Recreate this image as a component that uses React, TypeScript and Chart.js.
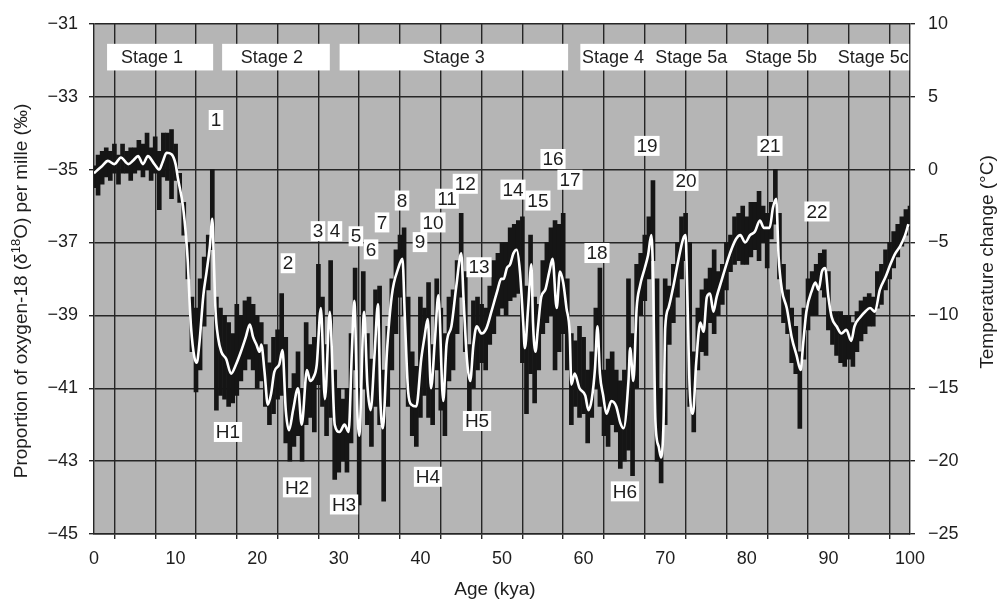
import { useEffect, useRef } from 'react';
import { Chart, registerables } from 'chart.js';

Chart.register(...registerables);

// ---- Data ----
// Raw δ18O record: min/max of the black trace in 0.5 kya bins
const rawAges = [
  0, 0.5, 1, 1.5, 2, 2.5, 3, 3.5, 4, 4.5, 5, 5.5, 6, 6.5, 7, 7.5, 8, 8.5, 9, 9.5,
  10, 10.5, 11, 11.5, 12, 12.5, 13, 13.5, 14, 14.5, 15, 15.5, 16, 16.5, 17, 17.5, 18, 18.5, 19, 19.5,
  20, 20.5, 21, 21.5, 22, 22.5, 23, 23.5, 24, 24.5, 25, 25.5, 26, 26.5, 27, 27.5, 28, 28.5, 29, 29.5,
  30, 30.5, 31, 31.5, 32, 32.5, 33, 33.5, 34, 34.5, 35, 35.5, 36, 36.5, 37, 37.5, 38, 38.5, 39, 39.5,
  40, 40.5, 41, 41.5, 42, 42.5, 43, 43.5, 44, 44.5, 45, 45.5, 46, 46.5, 47, 47.5, 48, 48.5, 49, 49.5,
  50, 50.5, 51, 51.5, 52, 52.5, 53, 53.5, 54, 54.5, 55, 55.5, 56, 56.5, 57, 57.5, 58, 58.5, 59, 59.5,
  60, 60.5, 61, 61.5, 62, 62.5, 63, 63.5, 64, 64.5, 65, 65.5, 66, 66.5, 67, 67.5, 68, 68.5, 69, 69.5,
  70, 70.5, 71, 71.5, 72, 72.5, 73, 73.5, 74, 74.5, 75, 75.5, 76, 76.5, 77, 77.5, 78, 78.5, 79, 79.5,
  80, 80.5, 81, 81.5, 82, 82.5, 83, 83.5, 84, 84.5, 85, 85.5, 86, 86.5, 87, 87.5, 88, 88.5, 89, 89.5,
  90, 90.5, 91, 91.5, 92, 92.5, 93, 93.5, 94, 94.5, 95, 95.5, 96, 96.5, 97, 97.5, 98, 98.5, 99, 99.5,
  100,
];
const rawLow = [
  -35.5, -35.7, -35.4, -35.2, -35.3, -35.1, -35.4, -35.1, -35.1, -35.3, -35.1, -35.0, -35.2, -35.0, -35.3, -35.1, -36.1, -35.2, -35.3, -35.8,
  -35.3, -35.9, -36.8, -38.0, -40.0, -41.1, -40.5, -39.3, -38.3, -37.2, -41.6, -41.2, -41.3, -41.5, -41.4, -41.2, -40.8, -40.5, -40.2, -40.5,
  -41.0, -40.8, -41.5, -42.0, -41.7, -41.3, -41.2, -42.5, -43.0, -42.6, -42.3, -43.0, -42.0, -41.8, -42.2, -40.9, -41.5, -42.3, -41.8, -43.5,
  -43.3, -43.0, -43.3, -42.5, -40.5, -44.2, -41.0, -42.0, -42.6, -41.5, -42.0, -44.1, -41.5, -40.5, -39.5, -38.5, -39.0, -41.5, -42.3, -42.6,
  -41.8, -41.2, -41.8, -42.0, -40.5, -41.6, -42.3, -40.8, -40.5, -39.5, -38.5, -40.0, -41.8, -41.0, -40.5, -40.3, -40.5, -39.8, -39.5, -39.0,
  -38.8, -39.0, -38.6, -38.5, -38.4, -40.3, -41.7, -40.6, -41.4, -40.5, -39.5, -39.2, -39.0, -40.5, -40.0, -39.5, -40.5, -42.0, -41.5, -41.8,
  -41.7, -42.5, -41.8, -41.0, -41.5, -42.3, -42.6, -42.0, -42.2, -43.2, -43.0, -42.7, -43.4, -41.0, -39.0, -38.6, -38.0, -37.5, -43.0, -43.6,
  -42.0, -39.8, -39.2, -38.5, -38.0, -37.5, -41.5, -42.2, -40.5, -40.0, -40.1, -39.2, -39.5, -39.0, -38.7, -38.3, -37.8, -37.6, -37.5, -37.6,
  -37.6, -37.4, -37.2, -37.5, -37.0, -37.7, -36.9, -36.5, -38.0, -39.2, -39.5, -40.3, -40.6, -42.1, -40.2, -39.4, -39.0, -39.0, -38.3, -38.5,
  -39.4, -39.8, -40.1, -40.3, -40.4, -40.2, -40.4, -40.0, -39.7, -39.5, -39.3, -39.3, -38.8, -38.7, -38.3, -38.0, -37.7, -37.4, -37.1, -36.8,
  -36.6,
];
const rawHigh = [
  -34.9, -34.6, -34.5, -34.4, -34.5, -34.3, -34.6, -34.3, -34.5, -34.4, -34.4, -34.2, -34.3, -34.0, -34.4, -34.1, -34.5, -34.0, -34.0, -33.9,
  -34.3, -35.1, -35.9, -37.0, -38.5, -38.8, -38.0, -37.4, -36.8, -35.0, -38.5, -38.8, -39.0, -39.2, -39.5, -38.7, -39.0, -38.6, -38.5, -38.7,
  -39.0, -39.2, -39.8, -40.3, -39.6, -39.4, -38.4, -39.6, -41.0, -40.6, -40.0, -41.0, -39.2, -39.8, -39.6, -37.6, -38.5, -39.8, -37.5, -40.5,
  -41.0, -41.3, -41.0, -39.5, -37.7, -41.0, -37.8, -39.5, -40.2, -38.3, -38.2, -40.5, -39.3, -38.0, -37.2, -36.8, -36.6, -38.5, -40.0, -40.4,
  -38.5, -38.8, -38.1, -39.8, -38.0, -38.8, -39.5, -38.5, -38.3, -37.5, -36.2, -37.8, -39.8, -38.6, -38.5, -38.7, -38.8, -38.2, -37.5, -37.3,
  -37.0, -37.0, -36.6, -36.5, -36.4, -36.3, -38.2, -36.8, -38.5, -38.7, -37.5, -37.0, -36.6, -36.4, -36.5, -36.2, -38.0, -39.5, -39.7, -39.3,
  -39.6, -40.5, -40.0, -38.8, -37.7, -40.5, -40.2, -40.0, -40.5, -40.8, -40.5, -38.0, -39.5, -37.6, -37.3, -36.8, -36.3, -35.3, -38.0, -41.0,
  -38.0, -38.2, -37.6, -37.0, -36.3, -36.2, -37.0, -40.0, -38.8, -38.3, -38.0, -37.7, -37.2, -37.8, -37.6, -37.0, -36.8, -36.3, -36.2, -36.0,
  -36.3, -35.9, -35.9, -35.6, -36.0, -36.2, -35.9, -35.0, -36.2, -37.6, -38.3, -38.8, -39.3, -40.0, -38.8, -38.0, -37.8, -37.6, -37.3, -37.2,
  -37.8, -38.9, -38.9, -38.9, -39.0, -39.0, -39.2, -38.9, -38.6, -38.5, -38.4, -38.5, -37.8, -37.6, -37.2, -37.0, -36.7, -36.5, -36.3, -36.1,
  -36.0,
];

// Smoothed record (white line)
const smoothAges = [
  0, 0.5, 1, 1.7, 2.5, 3.3, 4.2, 4.8, 5.4, 6.0, 6.6, 7.4, 8.0, 8.4, 8.9, 9.5, 10.0, 10.3, 10.9, 11.3,
  11.5, 11.7, 11.9, 12.3, 12.6, 12.9, 13.4, 13.8, 14.2, 14.5, 14.7, 14.9, 15.2, 15.6, 16.2, 16.8, 17.4, 18.0, 18.6, 19.1,
  19.5, 19.9, 20.3, 20.5, 20.9, 21.3, 21.7, 22.1, 22.7, 23.1, 23.5, 23.9, 24.4, 25.0, 25.45, 26.1, 26.5, 26.9, 27.3, 27.8,
  28.3, 28.9, 29.5, 30.1, 30.7, 31.2, 31.6, 31.9, 32.3, 32.5, 33.1, 33.5, 33.9, 34.4, 34.8, 35.1, 35.4, 35.9, 36.5, 37.3,
  37.8, 38.1, 38.5, 38.9, 39.5, 40.1, 40.5, 40.9, 41.3, 41.8, 42.2, 42.8, 43.2, 43.8, 44.4, 45.0, 45.3, 45.7, 46.1, 46.5,
  46.9, 47.5, 48.1, 48.7, 49.4, 49.9, 50.2, 50.6, 51.0, 51.4, 51.8, 52.2, 52.6, 52.8, 53.2, 53.6, 53.8, 54.1, 54.4, 54.8,
  55.3, 55.8, 56.2, 56.7, 57.1, 57.5, 57.9, 58.3, 58.5, 58.9, 59.5, 60.2, 60.6, 61.0, 61.4, 61.7, 62.0, 62.4, 62.8, 63.4,
  64.0, 64.5, 64.9, 65.5, 65.7, 66.1, 66.5, 66.9, 67.5, 67.9, 68.3, 68.5, 68.8, 69.2, 69.5, 69.8, 70.0, 70.4, 71.0, 71.6,
  72.2, 72.5, 72.7, 73.0, 73.4, 73.8, 74.3, 74.7, 75.1, 75.5, 75.9, 76.3, 76.9, 77.5, 78.1, 78.7, 79.2, 79.8, 80.4, 81.0,
  81.6, 82.1, 82.8, 83.2, 83.6, 83.9, 84.3, 84.9, 85.5, 86.1, 86.6, 86.9, 87.3, 88.0, 88.4, 88.8, 89.2, 89.6, 90.0, 90.4,
  91.0, 91.6, 92.2, 92.8, 93.2, 93.9, 94.5, 95.1, 95.7, 96.3, 97.0, 97.6, 98.2, 98.8, 99.4, 99.8,
];
const smoothValues = [
  -35.1, -35.0, -34.9, -34.76, -34.85, -34.67, -34.85, -34.75, -34.63, -34.85, -34.63, -34.85, -35.0, -34.8, -34.54, -34.58, -34.85, -35.26, -36.0, -36.9,
  -37.55, -38.55, -39.35, -40.15, -40.3, -39.8, -38.45, -37.8, -37.1, -36.35, -37.6, -38.9, -39.6, -40.0, -40.2, -40.6, -40.35, -40.0, -39.6, -39.25,
  -39.6, -39.8, -40.0, -39.8, -40.55, -41.45, -41.15, -40.55, -40.35, -39.95, -41.6, -42.15, -41.6, -41.0, -42.0, -40.5, -40.8, -40.7, -40.35, -38.8,
  -41.3, -38.9, -42.0, -42.2, -42.0, -42.2, -40.0, -38.6, -41.8, -42.3, -38.9, -40.9, -41.6, -40.0, -38.7, -41.35, -42.1, -40.0, -38.45, -37.7,
  -37.45, -39.1, -41.1, -41.45, -41.5, -40.2, -39.6, -39.1, -41.0, -39.6, -38.45, -41.35, -39.8, -39.3, -38.2, -37.3, -38.6, -40.2, -40.8, -39.8,
  -39.3, -39.5, -39.35, -38.9, -38.35, -38.0, -38.0, -37.7, -37.6, -37.3, -37.2, -37.8, -39.2, -39.9, -38.8, -37.6, -39.2, -40.0, -39.35, -38.5,
  -38.3, -37.8, -37.45, -38.8, -37.8, -38.1, -38.8, -39.5, -40.9, -40.6, -41.0, -41.2, -41.6, -41.3, -40.45, -39.3, -40.6, -41.2, -41.7, -41.35,
  -41.5, -41.95, -42.1, -40.8, -39.9, -40.8, -38.8, -38.2, -37.7, -37.35, -36.8, -37.8, -41.9, -42.6, -42.9, -41.9, -39.35, -38.8, -38.2, -37.5,
  -36.9, -36.8, -38.3, -41.0, -41.7, -40.3, -39.2, -39.45, -38.5, -38.4, -38.9, -38.5, -38.05, -37.6, -37.2, -36.9, -36.8, -37.0, -36.8, -36.7,
  -36.4, -36.6, -36.6, -36.05, -35.8, -37.4, -38.3, -38.8, -39.6, -40.1, -40.5, -39.8, -38.9, -38.3, -38.1, -38.3, -37.8, -37.7, -38.5, -39.05,
  -39.3, -39.5, -39.4, -39.7, -39.3, -39.05, -38.9, -38.8, -38.9, -38.3, -37.95, -37.6, -37.3, -37.1, -36.8, -36.5,
];

// Marine isotope stage banners
const stageNames = ['Stage 1', 'Stage 2', 'Stage 3', 'Stage 4', 'Stage 5a', 'Stage 5b', 'Stage 5c'];
const stageCenters = [7.1, 21.8, 44.1, 63.6, 73.2, 84.2, 95.5];
const stageBoxStarts = [1.6, 15.7, 30.1, 59.6];
const stageBoxEnds = [14.6, 28.9, 58.1, 99.9];

// Numbered interstadials and Heinrich events
const eventNames = [
  '1', '2', '3', '4', '5', '6', '7', '8', '9', '10', '11', '12', '13', '14', '15', '16', '17', '18', '19', '20', '21', '22',
  'H1', 'H2', 'H3', 'H4', 'H5', 'H6',
];
const eventAges = [
  14.95, 23.77, 27.45, 29.53, 32.1, 33.95, 35.3, 37.75, 39.95, 41.54, 43.26, 45.5, 47.18, 51.35, 54.4, 56.25, 58.33, 61.64, 67.77, 72.55, 82.84, 88.6,
  16.42, 24.88, 30.64, 40.93, 46.94, 65.07,
];
const eventValues = [
  -33.64, -37.57, -36.69, -36.69, -36.83, -37.19, -36.45, -35.85, -36.99, -36.45, -35.8, -35.39, -37.68, -35.55, -35.85, -34.71, -35.28, -37.29, -34.35, -35.31, -34.35, -36.15,
  -42.2, -43.72, -44.19, -43.43, -41.9, -43.83,
];

const FONT = '"Liberation Sans", Arial, Helvetica, sans-serif';
const TEXT = '#1e1e1e';
const GRID = '#262626';

const fmt = (v: number) => (v < 0 ? '\u2212' + Math.abs(v) : String(v));

const decorPlugin = {
  id: 'decor',
  beforeDraw(chart: any) {
    const { ctx, chartArea } = chart;
    ctx.save();
    ctx.fillStyle = '#ffffff';
    ctx.fillRect(0, 0, chart.width, chart.height);
    ctx.fillStyle = '#b5b5b5';
    ctx.fillRect(chartArea.left, chartArea.top, chartArea.right - chartArea.left, chartArea.bottom - chartArea.top);
    ctx.restore();
  },
  afterDatasetsDraw(chart: any) {
    const { ctx } = chart;
    const xs = chart.scales.x;
    const ys = chart.scales.y;
    ctx.save();
    // stage banners
    const bTop = ys.getPixelForValue(-31.55);
    const bBot = ys.getPixelForValue(-32.28);
    ctx.fillStyle = '#ffffff';
    for (let i = 0; i < stageBoxStarts.length; i++) {
      const l = xs.getPixelForValue(stageBoxStarts[i]);
      const r = xs.getPixelForValue(stageBoxEnds[i]);
      ctx.fillRect(l, bTop, r - l, bBot - bTop);
    }
    ctx.fillStyle = TEXT;
    ctx.font = `18px ${FONT}`;
    ctx.textAlign = 'center';
    ctx.textBaseline = 'middle';
    const sy = (bTop + bBot) / 2 + 1;
    stageNames.forEach((s, i) => {
      ctx.fillText(s, xs.getPixelForValue(stageCenters[i]), sy);
    });
    // event labels
    ctx.font = `19px ${FONT}`;
    eventNames.forEach((s, i) => {
      const cx = xs.getPixelForValue(eventAges[i]);
      const cy = ys.getPixelForValue(eventValues[i]);
      const w = ctx.measureText(s).width;
      ctx.fillStyle = '#ffffff';
      ctx.fillRect(cx - w / 2 - 2, cy - 10, w + 4, 20);
      ctx.fillStyle = TEXT;
      ctx.fillText(s, cx, cy + 1);
    });
    ctx.restore();
  },
  afterDraw(chart: any) {
    const { ctx } = chart;
    ctx.save();
    ctx.fillStyle = TEXT;
    ctx.textBaseline = 'middle';
    // bottom title
    ctx.font = `19px ${FONT}`;
    ctx.textAlign = 'center';
    ctx.fillText('Age (kya)', 495, 590);
    // right title
    ctx.save();
    ctx.translate(988, 262);
    ctx.rotate(-Math.PI / 2);
    ctx.fillText('Temperature change (\u00B0C)', 0, 0);
    ctx.restore();
    // left title with superscript
    const p1 = 'Proportion of oxygen-18 (\u03B4';
    const p2 = '18';
    const p3 = 'O) per mille (\u2030)';
    ctx.font = `19px ${FONT}`;
    const w1 = ctx.measureText(p1).width;
    const w3 = ctx.measureText(p3).width;
    ctx.font = `13px ${FONT}`;
    const w2 = ctx.measureText(p2).width;
    const total = w1 + w2 + w3;
    ctx.save();
    ctx.translate(22, 291);
    ctx.rotate(-Math.PI / 2);
    ctx.textAlign = 'left';
    let x = -total / 2;
    ctx.font = `19px ${FONT}`;
    ctx.fillText(p1, x, 0);
    x += w1;
    ctx.font = `13px ${FONT}`;
    ctx.fillText(p2, x, -6);
    x += w2;
    ctx.font = `19px ${FONT}`;
    ctx.fillText(p3, x, 0);
    ctx.restore();
    ctx.restore();
  },
};

export default function App() {
  const ref = useRef<HTMLCanvasElement | null>(null);
  useEffect(() => {
    if (!ref.current) return;
    const rawData = rawAges.map((a, i) => ({ x: a, y: [rawLow[i], rawHigh[i]] }));
    const smoothData = smoothAges.map((a, i) => ({ x: a, y: smoothValues[i] }));
    const chart = new Chart(ref.current, {
      type: 'bar',
      data: {
        datasets: [
          {
            type: 'line',
            label: 'Smoothed',
            data: smoothData as any,
            borderColor: '#ffffff',
            borderWidth: 2.6,
            pointRadius: 0,
            cubicInterpolationMode: 'monotone',
            order: 0,
            yAxisID: 'y',
          } as any,
          {
            type: 'bar',
            label: 'Raw',
            data: rawData as any,
            backgroundColor: '#151515',
            borderWidth: 0,
            barThickness: 4,
            grouped: false,
            order: 1,
            yAxisID: 'y',
          } as any,
        ],
      },
      options: {
        animation: false,
        responsive: false,
        devicePixelRatio: 1,
        layout: { padding: { top: 20, left: 0, right: 0, bottom: 0 } },
        plugins: { legend: { display: false }, tooltip: { enabled: false } },
        scales: {
          x: {
            type: 'linear',
            min: 0,
            max: 100,
            offset: false,
            grid: { color: GRID, lineWidth: 1.4, tickLength: 5, tickColor: GRID },
            border: { color: GRID, width: 1.4 },
            ticks: {
              stepSize: 5,
              autoSkip: false,
              maxRotation: 0,
              padding: 9,
              color: TEXT,
              font: { family: FONT, size: 18 },
              callback: (v: any) => (Number(v) % 10 === 0 ? String(v) : ''),
            },
            afterFit: (s: any) => {
              s.height = 68;
            },
          },
          y: {
            type: 'linear',
            position: 'left',
            min: -45,
            max: -31,
            grid: { color: GRID, lineWidth: 1.4, tickLength: 5, tickColor: GRID },
            border: { color: GRID, width: 1.4 },
            ticks: {
              stepSize: 2,
              padding: 11,
              color: TEXT,
              font: { family: FONT, size: 18 },
              callback: (v: any) => fmt(Number(v)),
            },
            afterFit: (s: any) => {
              s.width = 94;
            },
          },
          y2: {
            type: 'linear',
            position: 'right',
            min: -25,
            max: 10,
            grid: { drawOnChartArea: false, tickLength: 5, tickColor: GRID, lineWidth: 1.4 },
            border: { color: GRID, width: 1.4 },
            ticks: {
              stepSize: 5,
              padding: 13,
              color: TEXT,
              font: { family: FONT, size: 18 },
              callback: (v: any) => fmt(Number(v)),
            },
            afterFit: (s: any) => {
              s.width = 89;
            },
          },
        },
      } as any,
      plugins: [decorPlugin],
    });
    return () => chart.destroy();
  }, []);
  return (
    <div style={{ position: 'absolute', left: 0, top: 0, width: 999, height: 602 }}>
      <canvas ref={ref} width={999} height={602} style={{ width: 999, height: 602, display: 'block' }} />
    </div>
  );
}
